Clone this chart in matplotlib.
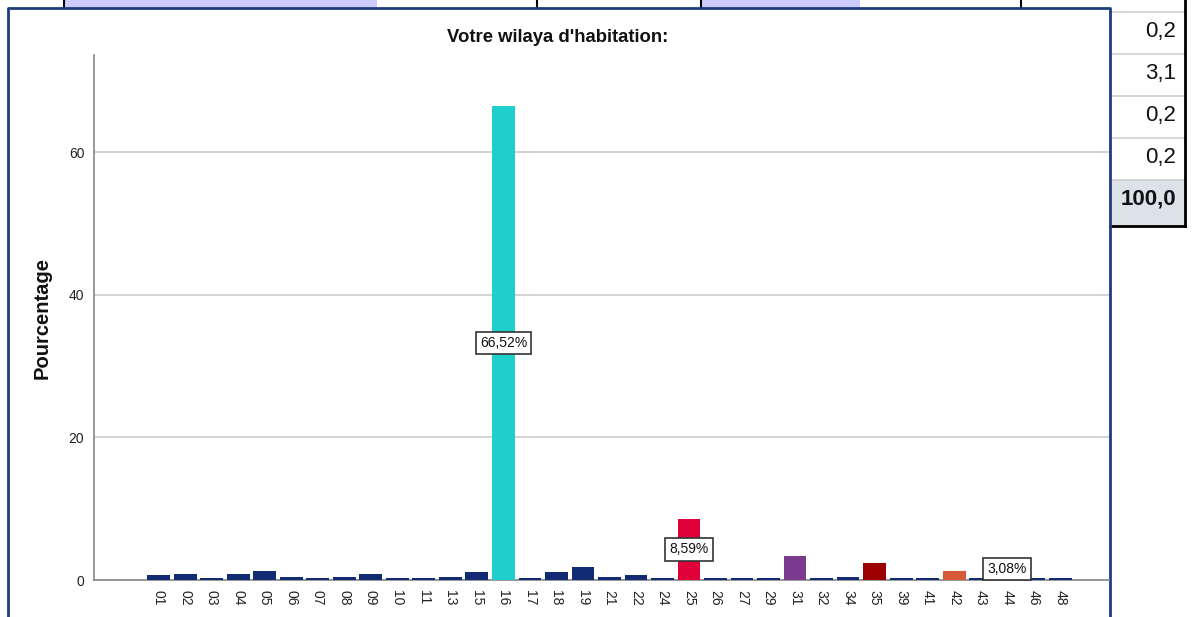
import matplotlib
matplotlib.use("Agg")
import matplotlib.pyplot as plt
import matplotlib.transforms as mtransforms
from matplotlib.patches import Rectangle

plt.rcParams['font.family'] = ['Liberation Sans', 'DejaVu Sans']

# wilaya codes and percentages (N = 454)
wilayas = ["01", "02", "03", "04", "05", "06", "07", "08", "09", "10", "11", "13",
           "15", "16", "17", "18", "19", "21", "22", "24", "25", "26", "27", "29",
           "31", "32", "34", "35", "39", "41", "42", "43", "44", "46", "48"]
pourcentages = [0.66, 0.88, 0.22, 0.88, 1.32, 0.44, 0.22, 0.44, 0.88, 0.22, 0.22, 0.44,
                1.10, 66.52, 0.22, 1.10, 1.76, 0.44, 0.66, 0.22, 8.59, 0.22, 0.22, 0.22,
                3.30, 0.22, 0.44, 2.42, 0.22, 0.22, 1.32, 0.22, 3.08, 0.22, 0.22]
couleurs_speciales = {"16": "#1fcfcc", "25": "#e0003a", "31": "#7b3a8e",
                      "35": "#9c0000", "42": "#d65a38", "44": "#3a8f4a"}
etiquetes = ["16", "25", "44"]

# fragment of the frequency table visible on the right
table_valeurs = ["0,2", "3,1", "0,2", "0,2", "100,0"]

W, H = 1192, 617
fig = plt.figure(figsize=(W / 100, H / 100), dpi=100)

# background layer in pixel coordinates (table pieces and chart frame)
bg = fig.add_axes([0, 0, 1, 1])
bg.set_xlim(0, W)
bg.set_ylim(H, 0)
bg.axis("off")

# top strip of the table above the chart
bg.add_patch(Rectangle((64, 0), 313, 8, fc="#ccccff", ec="none"))
bg.add_patch(Rectangle((701, 0), 159, 8, fc="#ccccff", ec="none"))
for xv in [64, 537, 701, 1021]:
    bg.plot([xv, xv], [0, 8], color="black", lw=1.5)

# right table column
row_h = 42
for i, val in enumerate(table_valeurs):
    y0 = 12 + i * row_h
    bold = i == len(table_valeurs) - 1
    if bold:
        bg.add_patch(Rectangle((1110, y0), 75, 226 - y0, fc="#dde2e9", ec="none"))
    bg.plot([1110, 1185], [y0, y0], color="#cfcfcf", lw=1.2)
    bg.text(1176, y0 + 19, val, ha="right", va="center", fontsize=16,
            fontweight="bold" if bold else "normal", color="#111111")
bg.plot([1185, 1185], [0, 226], color="black", lw=2)
bg.plot([1110, 1185], [226, 226], color="black", lw=2)

# chart frame
bg.plot([8, 8, 1110, 1110], [H + 5, 8, 8, H + 5], color="#1f3c7e", lw=2)

# main chart
ax = fig.add_axes([94 / W, (H - 580) / H, (1109 - 94) / W, (580 - 55) / H])
ax.patch.set_alpha(0)
x = list(range(len(wilayas)))
couleurs = [couleurs_speciales.get(w, "#112b72") for w in wilayas]
ax.bar(x, pourcentages, width=0.86, color=couleurs, zorder=3)

for i, w in enumerate(wilayas):
    if w in etiquetes:
        v = pourcentages[i]
        ax.text(i, v / 2, f"{v:.2f}%".replace(".", ","), ha="center", va="center",
                fontsize=10, color="#111111", zorder=5,
                bbox=dict(boxstyle="square,pad=0.3", fc="white", ec="#333333", lw=1.2))

ax.set_xlim(-2.44, 35.84)
ax.set_ylim(0, 73.65)
ax.set_yticks([0, 20, 40, 60])
ax.yaxis.grid(True, color="#cccccc", lw=1.2, zorder=0)
ax.set_xticks(x)
ax.set_xticklabels(wilayas, rotation=270, fontsize=10, color="#222222")
shift = mtransforms.ScaledTranslation(-3 / 100, 0, fig.dpi_scale_trans)
for lab in ax.get_xticklabels():
    lab.set_transform(lab.get_transform() + shift)
ax.tick_params(axis="both", length=0, labelsize=10, colors="#222222")
ax.tick_params(axis="x", pad=7)
ax.tick_params(axis="y", pad=7)
for s in ["top", "right"]:
    ax.spines[s].set_visible(False)
for s in ["left", "bottom"]:
    ax.spines[s].set_color("#888888")
    ax.spines[s].set_linewidth(1.2)

fig.text(558 / W, 1 - 38 / H, "Votre wilaya d'habitation:", ha="center", va="center",
         fontsize=13.3, fontweight="bold", color="#111111")
fig.text(42 / W, 1 - 318 / H, "Pourcentage", ha="center", va="center", rotation=90,
         fontsize=14.5, fontweight="bold", color="#111111")

fig.savefig("out.png", dpi=100)
